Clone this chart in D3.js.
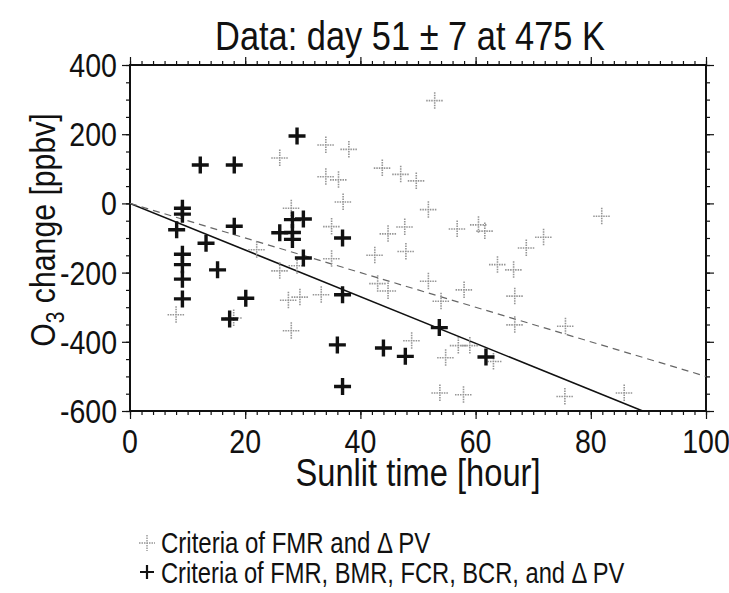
<!DOCTYPE html>
<html>
  <head>
    <title>O3 change vs sunlit time</title>
    <script src="https://d3js.org/d3.v7.min.js"></script>
    <style>
      body { margin: 0; background: #fff; }
      text { font-family: "Liberation Sans", Arial, sans-serif; fill: #111; }
    </style>
  </head>
  <body>
    <svg width="729" height="593"></svg>
    <script>
      // criteria of FMR and dPV (grey)
      const greyHours = [8, 18, 22, 26, 26, 29, 27.5, 29.5, 28, 28, 33.2, 34, 34, 36.2, 37, 38,
        35, 35, 42.5, 43, 44.8, 43.8, 47, 49.7, 44.8, 47.7, 47.9, 48.9, 51.8, 52.9, 51.8, 54,
        56.8, 60.5, 61.6, 58, 57, 59, 54.8, 63.1, 53.8, 57.9, 63.8, 66.6, 66.8, 66.8, 68.8,
        71.8, 75.6, 75.5, 81.9, 85.8];
      const greyChange = [-322, -331, -134, 131, -195, -180, -280, -271, -368, -14, -264, 169, 77, 68, 4, 156,
        -67, -160, -150, -232, -253, 102, 84, 65, -88, -68, -139, -397, -18, 297, -225, -283,
        -74, -62, -80, -250, -411, -411, -446, -457, -548, -553, -177, -192, -268, -351, -129,
        -98, -355, -558, -37, -548];

      // criteria of FMR, BMR, FCR, BCR and dPV (black)
      const blackHours = [8.1, 9.1, 9.1, 9.1, 9.1, 9.1, 9.1, 12.2, 13.2, 15.2, 17.3, 18.1, 18.1, 20.1,
        26, 28.2, 28.2, 28.2, 29, 30.1, 30.1, 36.9, 36.9, 36, 36.9, 44, 47.8, 53.7, 61.8];
      const blackChange = [-76, -14, -31, -147, -177, -219, -276, 111, -115, -192, -334, 111, -66, -274,
        -85, -47, -84, -104, 195, -45, -158, -100, -264, -409, -529, -418, -442, -359, -444];

      // fitted slopes through origin [ppbv / hour]: black set, grey set
      const fitSlopes = [-6.74, -5.0];

      const xTicks = [0, 20, 40, 60, 80, 100];
      const yTicks = [-600, -400, -200, 0, 200, 400];

      const svg = d3.select("svg");
      const pLeft = 130, pRight = 706, pTop = 65, pBottom = 411;

      const x = d3.scaleLinear().domain([0, 100]).range([pLeft, pRight]);
      const y = d3.scaleLinear().domain([-600, 400]).range([pBottom, pTop]);

      function label(px, py, str, size, anchor, rot, sq) {
        return svg.append("text")
          .attr("transform", `translate(${px},${py}) rotate(${rot || 0}) scale(${sq || 0.86},1)`)
          .attr("font-size", size)
          .attr("text-anchor", anchor || "middle")
          .text(str);
      }

      // axes: minor + major ticks on all four sides
      const xMinor = d3.range(0, 101, 2);
      const yMinor = d3.range(-600, 401, 50);
      function ticks(axisFn, scale, minor, major, offset) {
        const g = svg.append("g").attr("transform", offset);
        g.append("g").call(axisFn(scale).tickValues(minor).tickSize(4).tickFormat(""));
        g.append("g").call(axisFn(scale).tickValues(major).tickSize(8).tickFormat(""));
        g.selectAll(".domain").remove();
        g.selectAll("line").attr("stroke", "#111").attr("stroke-width", 1.2);
      }
      ticks(d3.axisBottom, x, xMinor, xTicks, `translate(0,${pBottom})`);
      ticks(d3.axisTop, x, xMinor, xTicks, `translate(0,${pTop})`);
      ticks(d3.axisLeft, y, yMinor, yTicks, `translate(${pLeft},0)`);
      ticks(d3.axisRight, y, yMinor, yTicks, `translate(${pRight},0)`);

      svg.append("rect")
        .attr("x", pLeft).attr("y", pTop)
        .attr("width", pRight - pLeft).attr("height", pBottom - pTop)
        .attr("fill", "none").attr("stroke", "#111").attr("stroke-width", 2);

      xTicks.forEach(t => label(x(t), 453, t, 34, "middle", 0, 0.84));
      yTicks.forEach(t => label(117, y(t) + 12, t, 34, "end", 0, 0.84));

      // fit lines
      svg.append("clipPath").attr("id", "plot")
        .append("rect").attr("x", pLeft).attr("y", pTop)
        .attr("width", pRight - pLeft).attr("height", pBottom - pTop);
      const lineGen = d3.line().x(d => x(d[0])).y(d => y(d[1]));
      fitSlopes.forEach((s, i) => {
        const xEnd = Math.min(100, -600 / s);
        svg.append("path")
          .attr("clip-path", "url(#plot)")
          .attr("d", lineGen([[0, 0], [xEnd, s * xEnd]]))
          .attr("fill", "none")
          .attr("stroke", i === 0 ? "#111" : "#666")
          .attr("stroke-width", i === 0 ? 1.6 : 1.2)
          .attr("stroke-dasharray", i === 0 ? null : "7,5");
      });

      function cross(g, cx, cy, r, color, w, dash) {
        g.append("path")
          .attr("d", `M${cx - r},${cy}H${cx + r}M${cx},${cy - r}V${cy + r}`)
          .attr("stroke", color).attr("stroke-width", w)
          .attr("stroke-dasharray", dash || null)
          .attr("fill", "none");
      }

      const greyG = svg.append("g");
      greyHours.forEach((h, i) => cross(greyG, x(h), y(greyChange[i]), 8.5, "#959595", 1.6, "1.5,1"));

      const blackG = svg.append("g");
      blackHours.forEach((h, i) => cross(blackG, x(h), y(blackChange[i]), 8.5, "#111", 3.4));

      // titles
      label(410, 50, "Data: day 51 \u00b1 7 at 475 K", 40);
      label(418, 486, "Sunlit time [hour]", 38);
      const yt = label(55, 230, "", 36, "middle", -90, 0.84);
      yt.append("tspan").text("O");
      yt.append("tspan").attr("font-size", 25).attr("dy", 9).text("3");
      yt.append("tspan").attr("dy", -9).text(" change [ppbv]");

      // legend
      const legG = svg.append("g");
      cross(legG, 147, 543, 8, "#959595", 1.4, "1.5,1");
      cross(legG, 147, 572, 7, "#111", 2.2);
      label(161, 553, "Criteria of FMR and \u0394 PV", 30, "start", 0, 0.8);
      label(161, 583, "Criteria of FMR, BMR, FCR, BCR, and \u0394 PV", 30, "start", 0, 0.79);
    </script>
  </body>
</html>
